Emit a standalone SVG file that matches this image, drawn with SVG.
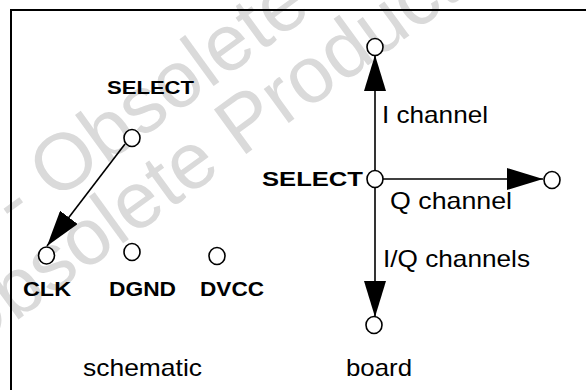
<svg xmlns="http://www.w3.org/2000/svg" width="586" height="390" viewBox="0 0 586 390">
<style>
.pin{fill:#fff;stroke:#000;stroke-width:1.6}
.b{font-family:"Liberation Sans",Arial,sans-serif;font-weight:bold;fill:#000}
.r{font-family:"Liberation Sans",Arial,sans-serif;font-size:24px;fill:#000}
.wire{stroke:#000;stroke-width:1.6;fill:none;marker-end:url(#ah)}
.wm{font-family:"Liberation Sans",Arial,sans-serif;font-size:80px;fill:#dadada}
</style>
<defs>
<marker id="ah" viewBox="0 0 36 22" refX="36" refY="11" markerWidth="36" markerHeight="22" markerUnits="userSpaceOnUse" orient="auto">
<path d="M0,0 L36,11 L0,22 Z" fill="#000"/>
</marker>
</defs>
<rect width="586" height="390" fill="#fff"/>
<g id="watermark">
<text class="wm" transform="translate(14.9,230.4) rotate(-36)">- Obsolete Product(s)</text>
<text class="wm" transform="translate(-36,359) rotate(-36)">Obsolete Product(s)</text>
</g>
<g id="frame" stroke="#000" stroke-width="2" fill="none">
<path d="M11,390 V10 H586"/>
</g>
<g id="connectors">
<path class="wire" d="M125,144 L47,246"/>
<path class="wire" d="M375,171 V55"/>
<path class="wire" d="M383,179 H543"/>
<path class="wire" d="M375,188 V317"/>
</g>
<g id="sch-select"><ellipse class="pin" cx="132" cy="138" rx="8" ry="8.5"/><text class="b" x="107" y="94" font-size="19" textLength="87" lengthAdjust="spacingAndGlyphs">SELECT</text></g>
<g id="sch-clk"><ellipse class="pin" cx="46.5" cy="255.5" rx="8" ry="8.5"/><text class="b" x="23" y="296" font-size="20" textLength="48" lengthAdjust="spacingAndGlyphs">CLK</text></g>
<g id="sch-dgnd"><ellipse class="pin" cx="132" cy="252" rx="8" ry="8.5"/><text class="b" x="109" y="296" font-size="20" textLength="67" lengthAdjust="spacingAndGlyphs">DGND</text></g>
<g id="sch-dvcc"><ellipse class="pin" cx="217" cy="256" rx="8" ry="8.5"/><text class="b" x="200" y="296" font-size="20" textLength="64" lengthAdjust="spacingAndGlyphs">DVCC</text></g>
<g id="brd-select"><ellipse class="pin" cx="375" cy="179" rx="8" ry="8.5"/><text class="b" x="262" y="186" font-size="21" textLength="101" lengthAdjust="spacingAndGlyphs">SELECT</text></g>
<g id="brd-i"><ellipse class="pin" cx="375" cy="47" rx="8" ry="8.5"/><text class="r" x="382" y="123" textLength="106" lengthAdjust="spacingAndGlyphs">I channel</text></g>
<g id="brd-q"><ellipse class="pin" cx="552" cy="180" rx="8" ry="8.5"/><text class="r" x="390" y="209" textLength="122" lengthAdjust="spacingAndGlyphs">Q channel</text></g>
<g id="brd-iq"><ellipse class="pin" cx="374" cy="325" rx="8" ry="8.5"/><text class="r" x="383" y="267" textLength="147" lengthAdjust="spacingAndGlyphs">I/Q channels</text></g>
<g id="captions">
<text class="r" x="83" y="376" textLength="119" lengthAdjust="spacingAndGlyphs">schematic</text>
<text class="r" x="346" y="376" textLength="66" lengthAdjust="spacingAndGlyphs">board</text>
</g>
</svg>
